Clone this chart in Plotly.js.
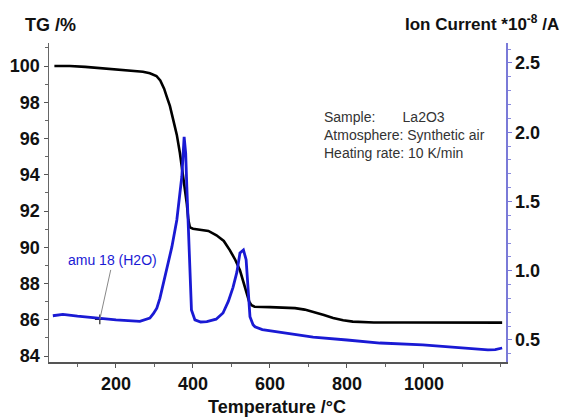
<!DOCTYPE html>
<html>
<head>
<meta charset="utf-8">
<script src="https://cdn.plot.ly/plotly-3.0.1.min.js"></script>
<style>html,body{margin:0;padding:0;background:#fff;}#chart{width:572px;height:417px;}</style>
</head>
<body>
<div id="chart"></div>
<script>
// TG curve (left axis, %)
var tgTemp = [40, 80, 120, 158, 200, 244, 270, 288, 305, 315, 325, 332, 340, 349, 358, 366, 373, 379, 384, 388, 392, 400, 420, 440, 461, 480, 496, 510, 522, 531, 539, 546, 552, 560, 600, 640, 665, 690, 712, 740, 764, 790, 815, 840, 870, 950, 1050, 1150, 1203];
var tgValue = [100.0, 100.0, 99.95, 99.88, 99.82, 99.74, 99.68, 99.6, 99.45, 99.2, 98.75, 98.3, 97.8, 97.0, 96.2, 95.2, 94.1, 93.3, 92.4, 91.5, 91.1, 91.02, 90.98, 90.9, 90.66, 90.35, 89.83, 89.3, 88.73, 88.1, 87.46, 87.0, 86.8, 86.72, 86.7, 86.68, 86.64, 86.56, 86.44, 86.26, 86.1, 85.97, 85.9, 85.86, 85.85, 85.85, 85.85, 85.84, 85.84];

// Ion current amu 18 (right axis, *10^-8 A)
var icTemp = [36, 62, 100, 158, 200, 262, 288, 297, 306, 314, 322, 332, 345, 358, 366, 371, 377, 381, 384, 388, 392, 396, 405, 420, 436, 460, 478, 492, 504, 514, 522, 531, 538, 544, 548, 556, 561, 580, 626, 678, 712, 800, 886, 997, 1101, 1166, 1185, 1203];
var icValue = [0.675, 0.685, 0.672, 0.655, 0.645, 0.635, 0.658, 0.69, 0.73, 0.8, 0.9, 1.02, 1.17, 1.366, 1.55, 1.68, 1.966, 1.85, 1.605, 1.3, 1.005, 0.717, 0.645, 0.63, 0.632, 0.65, 0.695, 0.78, 0.88, 0.99, 1.128, 1.15, 1.08, 0.84, 0.668, 0.61, 0.595, 0.575, 0.555, 0.536, 0.52, 0.5, 0.478, 0.464, 0.442, 0.428, 0.43, 0.442];

// tick labels / axis ticks
var xTicks = [200, 400, 600, 800, 1000];
var xTickText = ['200', '400', '600', '800', '1000'];
var yTicks = [84, 86, 88, 90, 92, 94, 96, 98, 100];
var yTickText = ['84', '86', '88', '90', '92', '94', '96', '98', '100'];
var y2Ticks = [0.5, 1.0, 1.5, 2.0, 2.5];
var y2TickText = ['0.5', '1.0', '1.5', '2.0', '2.5'];

// label pointer location (on the ion-current curve, read on TG axis)
var labelPointTemp = [158];
var labelPointTG = [86.02];

var sampleInfo = 'Sample:&nbsp;&nbsp;&nbsp;&nbsp;&nbsp;&nbsp;&nbsp;La2O3<br>Atmosphere: Synthetic air<br>Heating rate: 10 K/min';

function bold(arr) { return arr.map(function (s) { return '<b>' + s + '</b>'; }); }

var font = 'Liberation Sans, Arial, sans-serif';
var blue = '#1a1ad4';

var traces = [
  {x: tgTemp, y: tgValue, type: 'scatter', mode: 'lines', line: {color: '#000000', width: 2.6}, yaxis: 'y', hoverinfo: 'skip'},
  {x: icTemp, y: icValue, type: 'scatter', mode: 'lines', line: {color: blue, width: 2.8}, yaxis: 'y2', hoverinfo: 'skip'},
  {x: labelPointTemp, y: labelPointTG, type: 'scatter', mode: 'markers', yaxis: 'y',
   marker: {symbol: 'cross-thin', size: 7, color: '#222', line: {color: '#222', width: 1.2}}, hoverinfo: 'skip'}
];

var layout = {
  width: 572, height: 417,
  margin: {l: 49, r: 66, t: 43, b: 55},
  paper_bgcolor: '#ffffff', plot_bgcolor: '#ffffff',
  showlegend: false,
  font: {family: font, color: '#000'},
  xaxis: {
    range: [26, 1213], tickvals: xTicks, ticktext: bold(xTickText), showgrid: false, zeroline: false,
    showline: true, linecolor: '#555', linewidth: 1.5, mirror: false,
    ticks: 'outside', ticklen: 4, tickcolor: '#555',
    minor: {dtick: 100, tick0: 0, ticks: 'outside', ticklen: 3, tickcolor: '#666', showgrid: false},
    tickfont: {family: font, size: 18, color: '#111'},
    ticklabelstandoff: 1
  },
  yaxis: {
    range: [83.67, 101.27], tickvals: yTicks, ticktext: bold(yTickText), showgrid: false, zeroline: false,
    showline: true, linecolor: '#666', linewidth: 1.5,
    ticks: 'outside', ticklen: 4, tickcolor: '#555',
    minor: {dtick: 1, tick0: 0, ticks: 'outside', ticklen: 3, tickcolor: '#666', showgrid: false},
    tickfont: {family: font, size: 18, color: '#111'}
  },
  yaxis2: {
    overlaying: 'y', side: 'right',
    range: [0.341, 2.644], tickvals: y2Ticks, ticktext: bold(y2TickText), showgrid: false, zeroline: false,
    showline: true, linecolor: '#7a7ad8', linewidth: 1.5,
    ticks: 'outside', ticklen: 4, tickcolor: '#7a7ad8',
    minor: {dtick: 0.1, tick0: 0, ticks: 'outside', ticklen: 3, tickcolor: '#8a8ade', showgrid: false},
    tickfont: {family: font, size: 18, color: '#111'}
  },
  annotations: [
    {text: '<b>TG /%</b>', xref: 'paper', yref: 'paper', x: 0.004, y: 1.056, xanchor: 'center', yanchor: 'middle', showarrow: false,
     font: {family: font, size: 18, color: '#111'}},
    {text: '<b>Ion Current *10<sup>-8</sup> /A</b>', xref: 'paper', yref: 'paper', x: 0.948, y: 1.063, xanchor: 'center', yanchor: 'middle', showarrow: false,
     font: {family: font, size: 17, color: '#111'}},
    {text: '<b>Temperature /°C</b>', xref: 'paper', yref: 'paper', x: 0.499, y: -0.141, xanchor: 'center', yanchor: 'middle', showarrow: false,
     font: {family: font, size: 18, color: '#111'}},
    {text: sampleInfo, xref: 'paper', yref: 'paper', x: 0.597, y: 0.712, xanchor: 'left', yanchor: 'middle', align: 'left', showarrow: false,
     font: {family: font, size: 14, color: '#333'}},
    {text: 'amu 18 (H2O)', x: labelPointTemp[0], y: labelPointTG[0], xref: 'x', yref: 'y',
     showarrow: true, arrowhead: 0, arrowwidth: 1, arrowcolor: '#888', ax: 13, ay: -59, standoff: 0,
     font: {family: font, size: 14, color: blue}}
  ]
};

Plotly.newPlot('chart', traces, layout, {staticPlot: true, displayModeBar: false});
</script>
</body>
</html>
